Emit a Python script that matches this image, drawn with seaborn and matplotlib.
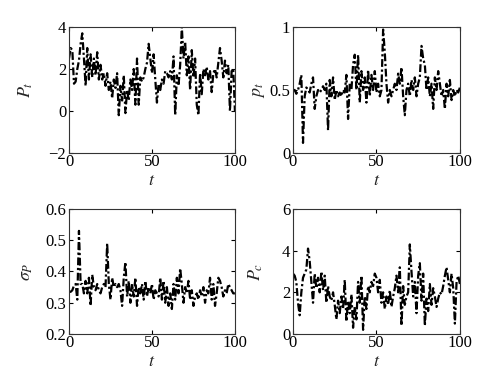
import numpy as np
import pandas as pd
import matplotlib
matplotlib.use("Agg")
import matplotlib.pyplot as plt
import seaborn as sns

# values, t = 0..100
p_total = [2.5, 3.0, 2.9, 1.3, 1.4, 2.0, 2.4, 3.2, 3.7, 2.5,
           1.2, 3.0, 1.5, 2.7, 1.6, 2.5, 1.7, 2.8, 1.5, 2.2,
           1.5, 1.8, 1.2, 1.8, 1.0, 1.4, 0.6, 1.5, 1.1, 1.8,
           -0.2, 1.2, 0.5, 1.7, -0.1, 1.0, 0.5, 1.5, 1.0, 2.0,
           0.3, 2.5, 0.3, 1.6, 1.4, 1.6, 2.0, 2.3, 3.2, 2.5,
           1.8, 2.7, 1.5, 0.4, 1.3, 1.0, 1.5, 1.3, 1.9, 1.8,
           1.6, 1.9, 1.5, 2.6, -0.2, 1.7, 1.2, 2.2, 4.0, 2.5,
           3.3, 1.7, 2.6, 1.0, 2.9, 1.6, 2.5, 0.3, -0.2, 1.8,
           0.8, 2.0, 1.7, 2.1, 1.5, 1.9, 0.9, 1.8, 2.0, 1.6,
           2.3, 3.0, 2.4, 1.6, 2.4, 1.8, 2.2, 0.0, 1.9, 2.0,
           0.0]

p_share = [0.50, 0.50, 0.47, 0.50, 0.55, 0.62, 0.08, 0.45, 0.52, 0.50,
           0.48, 0.55, 0.60, 0.35, 0.45, 0.50, 0.48, 0.50, 0.53, 0.50,
           0.55, 0.18, 0.58, 0.45, 0.60, 0.42, 0.50, 0.45, 0.48, 0.45,
           0.50, 0.48, 0.62, 0.27, 0.55, 0.50, 0.70, 0.78, 0.50, 0.78,
           0.40, 0.65, 0.50, 0.60, 0.40, 0.66, 0.45, 0.62, 0.50, 0.65,
           0.48, 0.55, 0.45, 0.50, 0.98, 0.80, 0.55, 0.40, 0.50, 0.45,
           0.50, 0.55, 0.50, 0.63, 0.55, 0.68, 0.45, 0.30, 0.50, 0.55,
           0.45, 0.58, 0.50, 0.60, 0.45, 0.55, 0.60, 0.85, 0.75, 0.70,
           0.50, 0.60, 0.45, 0.55, 0.35, 0.60, 0.50, 0.65, 0.55, 0.45,
           0.50, 0.35, 0.55, 0.45, 0.58, 0.42, 0.50, 0.45, 0.50, 0.48,
           0.52]

sigma_p = [0.335, 0.335, 0.34, 0.355, 0.36, 0.31, 0.53, 0.36, 0.36, 0.33,
           0.37, 0.33, 0.38, 0.29, 0.39, 0.35, 0.34, 0.36, 0.34, 0.33,
           0.35, 0.36, 0.35, 0.49, 0.36, 0.31, 0.38, 0.35, 0.36, 0.35,
           0.36, 0.34, 0.29, 0.38, 0.43, 0.32, 0.37, 0.30, 0.36, 0.32,
           0.38, 0.29, 0.35, 0.33, 0.36, 0.31, 0.37, 0.32, 0.35, 0.33,
           0.36, 0.31, 0.34, 0.33, 0.32, 0.38, 0.31, 0.37, 0.30, 0.35,
           0.29, 0.33, 0.28, 0.36, 0.31, 0.38, 0.33, 0.41, 0.36, 0.30,
           0.35, 0.33, 0.37, 0.31, 0.34, 0.29, 0.32, 0.33, 0.31, 0.34,
           0.32, 0.35, 0.30, 0.34, 0.33, 0.38, 0.31, 0.36, 0.29, 0.33,
           0.38, 0.37, 0.35, 0.32, 0.34, 0.33, 0.36, 0.35, 0.34, 0.33,
           0.33]

p_c = [2.9, 2.8, 2.5, 1.5, 0.9, 2.0, 2.7, 2.9, 3.1, 4.1,
       3.5, 2.5, 1.5, 2.9, 2.2, 2.7, 2.0, 3.0, 2.1, 2.8,
       1.5, 2.3, 1.8, 1.6, 2.0, 1.4, 0.7, 1.6, 1.0, 1.8,
       1.2, 2.6, 0.6, 1.6, 1.0, 1.9, 0.3, 1.3, 0.7, 2.5,
       1.5, 2.8, 0.2, 1.8, 1.2, 2.3, 2.0, 2.5, 2.3, 2.9,
       2.7, 2.0, 2.6, 1.5, 2.0, 1.2, 1.8, 1.4, 2.1, 1.3,
       1.8, 2.2, 2.8, 2.0, 3.2, 0.4, 2.3, 1.4, 1.8, 2.0,
       4.3, 3.0, 1.8, 2.5, 1.0, 2.8, 3.4, 1.6, 2.9, 0.4,
       1.7, 1.1, 2.4, 1.4, 2.2, 1.8, 1.3, 1.7, 2.0, 1.9,
       2.3, 2.8, 3.2, 2.6, 2.0, 2.9, 2.2, 0.5, 2.5, 2.8,
       2.4]

t = np.arange(len(p_total))
df = pd.DataFrame({'t': t, 'P_t': p_total, 'p_t': p_share,
                   'sigma_P': sigma_p, 'P_c': p_c})

sns.set_style("ticks")
plt.rcParams['font.family'] = ['Liberation Serif', 'DejaVu Serif']
plt.rcParams['mathtext.fontset'] = 'stix'
plt.rcParams['xtick.direction'] = 'in'
plt.rcParams['ytick.direction'] = 'in'

fig = plt.figure(figsize=(4.88, 3.71), dpi=100)

panels = [
    ('P_t', r'$P_t$', (-2, 4), [-2, 0, 2, 4], ['\u22122', '0', '2', '4'],
     [0.1414, 0.5876, 0.340, 0.3396], -0.205),
    ('p_t', r'$p_t$', (0, 1), [0, 0.5, 1], ['0', '0.5', '1'],
     [0.6004, 0.5876, 0.342, 0.3396], -0.156),
    ('sigma_P', r'$\sigma_P$', (0.2, 0.6), [0.2, 0.3, 0.4, 0.5, 0.6],
     ['0.2', '0.3', '0.4', '0.5', '0.6'],
     [0.1414, 0.0997, 0.340, 0.337], -0.205),
    ('P_c', r'$P_c$', (0, 6), [0, 2, 4, 6], ['0', '2', '4', '6'],
     [0.6004, 0.0997, 0.342, 0.337], -0.168),
]

for col, label, ylim, yticks, yticklabels, rect, labx in panels:
    ax = fig.add_axes(rect)
    sns.lineplot(data=df, x='t', y=col, ax=ax, color='black',
                 linewidth=1.6, linestyle=(0, (3.5, 1.2, 1, 1.2)))
    ax.set_xlim(0, 100)
    ax.set_ylim(*ylim)
    ax.set_xticks([0, 50, 100])
    ax.set_yticks(yticks)
    ax.set_yticklabels(yticklabels)
    ax.tick_params(labelsize=12, length=3, width=0.8,
                   top=True, right=True, colors='black')
    ax.tick_params(axis='x', pad=1)
    ax.tick_params(axis='y', pad=2)
    for sp in ax.spines.values():
        sp.set_color('#333333')
        sp.set_linewidth(0.8)
    ax.set_xlabel(r'$t$', fontsize=13, labelpad=0)
    ax.set_ylabel(label, fontsize=13)
    ax.xaxis.set_label_coords(0.5, -0.15)
    ax.yaxis.set_label_coords(labx, 0.5)

fig.savefig('out.png', dpi=100)
